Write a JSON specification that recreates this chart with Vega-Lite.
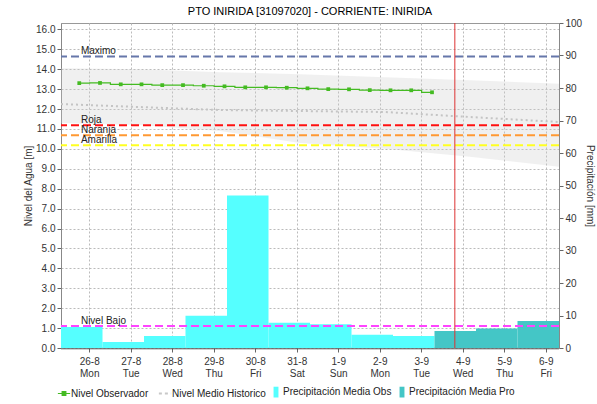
{
  "$schema": "https://vega.github.io/schema/vega-lite/v6.json",
  "width": 498,
  "height": 325,
  "autosize": {"type": "none"},
  "padding": {"left": 61, "top": 23, "right": 38, "bottom": 56},
  "config": {
    "font": "Liberation Sans",
    "view": {"stroke": "#999999"},
    "axis": {
      "labelFont": "Liberation Sans", "labelFontSize": 10, "labelColor": "#333333",
      "titleFont": "Liberation Sans", "titleFontSize": 10, "titleFontWeight": "normal", "titleColor": "#333333",
      "gridColor": "#BBBBBB", "gridDash": [2, 2], "gridWidth": 1,
      "tickColor": "#666666", "tickSize": 4, "domainColor": "#888888", "labelOverlap": false
    }
  },
  "title": {
    "text": "PTO INIRIDA [31097020] - CORRIENTE: INIRIDA",
    "font": "Liberation Sans", "fontSize": 11, "fontWeight": "normal", "color": "#000000",
    "anchor": "middle", "frame": "group", "offset": 1
  },
  "datasets": {
    "bars": [
      {"d": -0.68, "d1": 0.32, "mm": 6.5, "series": "Precipitación Media Obs"},
      {"d": 0.32, "d1": 1.32, "mm": 1.85, "series": "Precipitación Media Obs"},
      {"d": 1.32, "d1": 2.32, "mm": 3.7, "series": "Precipitación Media Obs"},
      {"d": 2.32, "d1": 3.32, "mm": 9.9, "series": "Precipitación Media Obs"},
      {"d": 3.32, "d1": 4.32, "mm": 46.9, "series": "Precipitación Media Obs"},
      {"d": 4.32, "d1": 5.32, "mm": 7.8, "series": "Precipitación Media Obs"},
      {"d": 5.32, "d1": 6.32, "mm": 7.3, "series": "Precipitación Media Obs"},
      {"d": 6.32, "d1": 7.32, "mm": 4.1, "series": "Precipitación Media Obs"},
      {"d": 7.32, "d1": 8.32, "mm": 3.7, "series": "Precipitación Media Obs"},
      {"d": 8.32, "d1": 9.32, "mm": 5.2, "series": "Precipitación Media Pro"},
      {"d": 9.32, "d1": 10.32, "mm": 6.0, "series": "Precipitación Media Pro"},
      {"d": 10.32, "d1": 11.32, "mm": 8.3, "series": "Precipitación Media Pro"}
    ],
    "band": [
      {"d": -0.68, "hi": 14.05, "lo": 11.3, "mean": 12.25},
      {"d": 1.22, "hi": 14.0, "lo": 11.2, "mean": 12.1},
      {"d": 3.15, "hi": 13.85, "lo": 10.9, "mean": 11.95},
      {"d": 5.08, "hi": 13.75, "lo": 10.3, "mean": 11.9},
      {"d": 7.13, "hi": 13.6, "lo": 10.0, "mean": 11.85},
      {"d": 9.17, "hi": 13.45, "lo": 9.6, "mean": 11.6},
      {"d": 11.32, "hi": 13.27, "lo": 9.1, "mean": 11.35}
    ],
    "thresholds": [
      {"name": "Maximo", "v": 14.64},
      {"name": "Roja", "v": 11.18},
      {"name": "Naranja", "v": 10.68},
      {"name": "Amarilla", "v": 10.18},
      {"name": "Nivel Bajo", "v": 1.1}
    ],
    "obs": [
      {"d": -0.24, "nivel": 13.3}, {"d": 0.26, "nivel": 13.31}, {"d": 0.76, "nivel": 13.24},
      {"d": 1.26, "nivel": 13.24}, {"d": 1.76, "nivel": 13.2}, {"d": 2.26, "nivel": 13.2},
      {"d": 2.76, "nivel": 13.17}, {"d": 3.26, "nivel": 13.14}, {"d": 3.76, "nivel": 13.09},
      {"d": 4.26, "nivel": 13.09}, {"d": 4.76, "nivel": 13.07}, {"d": 5.26, "nivel": 13.04},
      {"d": 5.76, "nivel": 13.0}, {"d": 6.26, "nivel": 12.99}, {"d": 6.76, "nivel": 12.95},
      {"d": 7.26, "nivel": 12.94}, {"d": 7.76, "nivel": 12.94}, {"d": 8.26, "nivel": 12.84}
    ],
    "now": [{"d": 8.81}]
  },
  "layer": [
    {
      "data": {"name": "bars"},
      "mark": {"type": "rect"},
      "encoding": {
        "x": {
          "field": "d", "type": "quantitative",
          "scale": {"domain": [-0.68, 11.32], "nice": false, "zero": false},
          "axis": {
            "title": null, "values": [0, 1, 2, 3, 4, 5, 6, 7, 8, 9, 10, 11], "grid": true,
            "labelAngle": 0, "labelLineHeight": 12, "labelPadding": 4,
            "domainColor": "#444444", "domainDash": [1, 1], "domainWidth": 2,
            "labelExpr": "[['26-8','Mon'],['27-8','Tue'],['28-8','Wed'],['29-8','Thu'],['30-8','Fri'],['31-8','Sat'],['1-9','Sun'],['2-9','Mon'],['3-9','Tue'],['4-9','Wed'],['5-9','Thu'],['6-9','Fri']][datum.value]"
          }
        },
        "x2": {"field": "d1"},
        "y": {
          "field": "mm", "type": "quantitative",
          "scale": {"domain": [0, 100], "nice": false},
          "axis": {
            "orient": "right", "title": "Precipitación [mm]", "values": [0, 10, 20, 30, 40, 50, 60, 70, 80, 90, 100],
            "format": "d", "grid": false, "titlePadding": 3
          }
        },
        "y2": {"datum": 0},
        "color": {
          "field": "series", "type": "nominal",
          "scale": {
            "domain": ["Nivel Observador", "Nivel Medio Historico", "Precipitación Media Obs", "Precipitación Media Pro"],
            "range": ["#44BB22", "#C8C8C8", "#55FFFF", "#44C6C6"]
          },
          "legend": {
            "title": null, "orient": "none", "legendX": -2, "legendY": 364,
            "direction": "horizontal", "columns": 4, "columnPadding": 5,
            "labelFont": "Liberation Sans", "labelFontSize": 10, "labelColor": "#222222",
            "labelOffset": 2, "symbolSize": 150, "symbolOpacity": 1,
            "encode": {
              "symbols": {
                "update": {
                  "shape": {"signal": "datum.value == 'Nivel Observador' ? 'M-1,0H1M-0.3,-0.3H0.3V0.3H-0.3Z' : datum.value == 'Nivel Medio Historico' ? 'stroke' : 'M-0.4,-0.88H0.4V0.88H-0.4Z'"},
                  "fill": {"signal": "datum.value == 'Nivel Observador' ? '#44BB22' : datum.value == 'Nivel Medio Historico' ? 'transparent' : datum.value == 'Precipitación Media Obs' ? '#55FFFF' : '#44C6C6'"},
                  "stroke": {"signal": "datum.value == 'Nivel Observador' ? '#44BB22' : datum.value == 'Nivel Medio Historico' ? '#C8C8C8' : 'transparent'"},
                  "strokeWidth": {"signal": "datum.value == 'Nivel Medio Historico' ? 2 : 1.2"},
                  "strokeDash": {"signal": "datum.value == 'Nivel Medio Historico' ? [3, 3] : [1, 0]"}
                }
              }
            }
          }
        }
      }
    },
    {
      "layer": [
        {
          "data": {"name": "band"},
          "mark": {"type": "area", "color": "#CCCCCC", "opacity": 0.3},
          "encoding": {
            "x": {"field": "d", "type": "quantitative"},
            "y": {
              "field": "hi", "type": "quantitative",
              "scale": {"domain": [0, 16.32], "nice": false},
              "axis": {"orient": "left", "title": "Nivel del Agua [m]", "values": [0, 1, 2, 3, 4, 5, 6, 7, 8, 9, 10, 11, 12, 13, 14, 15, 16], "format": ".1f", "grid": true, "titlePadding": 2, "labelOverlap": false}
            },
            "y2": {"field": "lo"}
          }
        },
        {
          "data": {"name": "band"},
          "mark": {"type": "line", "color": "#C4C4C4", "strokeWidth": 2, "strokeDash": [2, 3]},
          "encoding": {
            "x": {"field": "d", "type": "quantitative"},
            "y": {
              "field": "mean", "type": "quantitative",
              "axis": {"orient": "left", "title": "Nivel del Agua [m]", "values": [0, 1, 2, 3, 4, 5, 6, 7, 8, 9, 10, 11, 12, 13, 14, 15, 16], "format": ".1f", "grid": true, "titlePadding": 2, "labelOverlap": false}
            }
          }
        },
        {
          "data": {"name": "thresholds"},
          "mark": {"type": "rule", "strokeWidth": 2, "strokeDash": [8, 4]},
          "encoding": {
            "y": {
              "field": "v", "type": "quantitative",
              "axis": {"orient": "left", "title": "Nivel del Agua [m]", "values": [0, 1, 2, 3, 4, 5, 6, 7, 8, 9, 10, 11, 12, 13, 14, 15, 16], "format": ".1f", "grid": true, "titlePadding": 2, "labelOverlap": false}
            },
            "stroke": {
              "field": "name", "type": "nominal",
              "scale": {
                "domain": ["Maximo", "Roja", "Naranja", "Amarilla", "Nivel Bajo"],
                "range": ["#6677AA", "#FF1111", "#FF9933", "#FFFF22", "#FF44FF"]
              },
              "legend": null
            }
          }
        },
        {
          "data": {"name": "thresholds"},
          "mark": {"type": "text", "align": "left", "baseline": "alphabetic", "dy": -2, "fontSize": 10, "font": "Liberation Sans", "color": "#222222"},
          "encoding": {
            "x": {"datum": -0.2},
            "y": {
              "field": "v", "type": "quantitative",
              "axis": {"orient": "left", "title": "Nivel del Agua [m]", "values": [0, 1, 2, 3, 4, 5, 6, 7, 8, 9, 10, 11, 12, 13, 14, 15, 16], "format": ".1f", "grid": true, "titlePadding": 2, "labelOverlap": false}
            },
            "text": {"field": "name"}
          }
        },
        {
          "data": {"name": "obs"},
          "mark": {"type": "line", "color": "#44BB22", "strokeWidth": 1.2, "interpolate": "step", "point": {"filled": true, "shape": "square", "size": 14, "color": "#44BB22"}},
          "encoding": {
            "x": {"field": "d", "type": "quantitative"},
            "y": {
              "field": "nivel", "type": "quantitative",
              "axis": {"orient": "left", "title": "Nivel del Agua [m]", "values": [0, 1, 2, 3, 4, 5, 6, 7, 8, 9, 10, 11, 12, 13, 14, 15, 16], "format": ".1f", "grid": true, "titlePadding": 2, "labelOverlap": false}
            }
          }
        },
        {
          "data": {"name": "now"},
          "mark": {"type": "rule", "color": "#DD3333", "strokeWidth": 1},
          "encoding": {
            "x": {"field": "d", "type": "quantitative"}
          }
        }
      ]
    }
  ],
  "resolve": {"scale": {"y": "independent"}}
}
